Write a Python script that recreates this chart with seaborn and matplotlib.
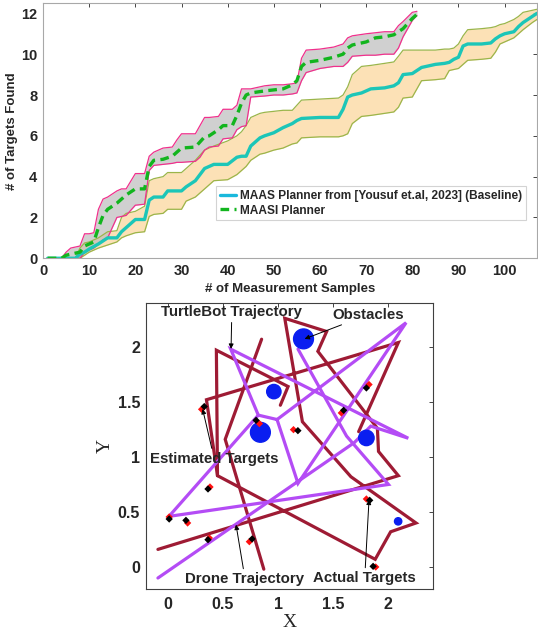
import numpy as np
import pandas as pd
import matplotlib
matplotlib.use('agg')
import matplotlib.pyplot as plt
from matplotlib.patches import Circle
from matplotlib.lines import Line2D
import seaborn as sns

# ---- top panel: targets found vs measurement samples ----
x_base = [1, 7, 8, 9, 10, 12, 14, 16, 17, 18, 20, 22, 23, 24, 26, 27, 30, 31, 33, 35, 37, 40, 42, 43, 44, 45,
          47, 48, 50, 52, 54, 55, 56, 60, 64, 65, 66, 67, 69, 71, 74, 76, 77, 78, 80, 82, 85, 87, 88, 89, 90,
          91, 92, 95, 97, 98, 99, 100, 102, 103, 104, 106, 107]
base_mean = [0, 0, 0.2, 0.3, 0.45, 0.7, 1.0, 1.0, 1.3, 1.5, 1.9, 1.9, 2.85, 3.0, 3.0, 3.3, 3.3, 3.5, 3.8, 4.4,
             4.6, 4.6, 4.95, 5.0, 5.0, 5.5, 5.9, 6.0, 6.15, 6.4, 6.6, 6.75, 6.85, 6.9, 6.9, 7.3, 7.9, 8.0, 8.1,
             8.3, 8.35, 8.45, 8.6, 9.0, 9.05, 9.35, 9.5, 9.55, 9.6, 9.75, 9.85, 10.4, 10.5, 10.5, 10.55, 10.75,
             10.9, 11.0, 11.1, 11.35, 11.55, 11.85, 12.0]
base_upper = [0, 0, 0.5, 0.75, 0.8, 1.0, 1.3, 1.35, 2.0, 2.2, 2.3, 2.55, 3.8, 3.9, 4.0, 4.2, 4.2, 4.4, 4.8, 5.3,
              5.5, 5.75, 6.0, 6.2, 6.5, 6.9, 7.1, 7.15, 7.2, 7.25, 7.25, 7.5, 7.75, 7.8, 7.85, 8.0, 8.4, 9.0, 9.4,
              9.45, 9.55, 9.62, 9.9, 10.2, 10.2, 10.2, 10.2, 10.25, 10.25, 10.3, 10.5, 10.9, 11.2, 11.25, 11.3,
              11.35, 11.45, 11.5, 11.7, 11.85, 12.05, 12.15, 12.2]
base_lower = [0, 0, 0, 0.15, 0.3, 0.5, 0.65, 0.8, 1.0, 1.1, 1.25, 1.3, 2.05, 2.15, 2.2, 2.4, 2.4, 2.8, 3.0, 3.4,
              3.8, 3.85, 4.1, 4.3, 4.5, 4.8, 5.1, 5.15, 5.3, 5.4, 5.6, 5.65, 5.9, 5.95, 5.95, 6.0, 6.1, 6.6, 6.95,
              7.0, 7.1, 7.17, 7.4, 7.85, 7.9, 8.7, 8.75, 8.8, 9.2, 9.25, 9.3, 9.5, 9.7, 9.75, 9.8, 10.1, 10.5,
              10.6, 10.8, 11.0, 11.2, 11.55, 11.7]

x_maasi = [1, 4, 5, 6, 8, 9, 10, 11, 12, 13, 14, 16, 17, 18, 20, 22, 23, 24, 26, 28, 29, 30, 33, 34, 35, 36,
           38, 39, 41, 42, 43, 44, 45, 48, 50, 52, 54, 55, 56, 57, 60, 63, 65, 66, 67, 70, 72, 74, 76, 77, 78,
           80, 81]
maasi_mean = [0, 0, 0.15, 0.2, 0.3, 0.6, 0.7, 0.8, 1.5, 2.1, 2.4, 2.7, 2.9, 3.1, 3.4, 3.4, 4.5, 4.8, 4.85, 5.0,
              5.2, 5.4, 5.45, 5.7, 5.95, 6.0, 6.3, 6.5, 6.5, 7.0, 7.6, 8.0, 8.1, 8.2, 8.25, 8.3, 8.5, 8.7, 9.4,
              9.6, 9.7, 9.85, 10.0, 10.3, 10.45, 10.6, 10.8, 10.85, 10.95, 11.1, 11.25, 11.75, 11.95]
maasi_upper = [0, 0, 0.3, 0.5, 0.6, 1.2, 1.2, 1.25, 2.4, 2.9, 3.0, 3.3, 3.4, 3.4, 4.15, 4.15, 5.0, 5.2, 5.4,
               5.45, 5.8, 6.1, 6.1, 6.5, 6.9, 6.9, 6.95, 7.3, 7.3, 7.5, 8.3, 8.3, 8.3, 8.45, 8.5, 8.5, 8.55, 8.6,
               9.8, 10.2, 10.25, 10.35, 10.5, 10.8, 10.9, 11.0, 11.05, 11.1, 11.1, 11.4, 11.6, 12.05, 12.1]
maasi_lower = [0, 0, 0, 0, 0, 0.3, 0.4, 0.5, 0.7, 0.9, 1.0, 2.0, 2.05, 2.1, 2.6, 2.65, 4.3, 4.55, 4.6, 4.65,
               4.7, 4.7, 4.75, 4.95, 5.3, 5.45, 5.5, 5.85, 5.9, 6.3, 6.45, 6.5, 7.9, 7.95, 8.0, 8.0, 8.05, 8.1,
               8.7, 9.1, 9.3, 9.4, 9.4, 9.6, 9.9, 9.95, 9.95, 10.0, 10.0, 10.3, 10.85, 11.65, 11.9]

legend_labels = ['MAAS Planner from [Yousuf et.al, 2023] (Baseline)', 'MAASI Planner']

# ---- bottom panel: trajectories ----
drone_paths = [
    [(-0.09, 0.16), (2.09, 0.83), (1.91, 1.05), (1.90, 1.26), (1.36, 1.96), (1.44, 2.14), (1.06, 2.26),
     (1.22, 1.32), (1.66, 0.82), (2.25, 0.40), (2.02, 0.32), (1.88, 0.07), (0.45, 0.83), (0.35, 1.52),
     (2.09, 2.04), (1.73, 1.23)],
    [(0.87, -0.02), (0.52, 1.16), (0.85, 2.07)],
    [(1.02, 1.47), (1.09, 1.64), (0.44, 1.97), (0.45, 0.83)],
]
turtle_paths = [
    [(-0.09, -0.10), (1.69, 1.13), (1.84, 1.28), (2.18, 1.17), (0.57, 1.98), (0.82, 1.38), (0.99, 1.34),
     (1.18, 0.76), (2.16, 2.22), (0.99, 1.34)],
    [(0.01, 0.46), (0.82, 1.38)],
    [(0.01, 0.46), (2.00, 0.75), (1.62, 1.19), (1.18, 1.98)],
]
actual_x = [0.306, 0.830, 1.139, 1.573, 1.824, 0.382, 0.012, 0.179, 0.376, 0.739, 1.800, 1.885]
actual_y = [1.433, 1.303, 1.248, 1.400, 1.658, 0.727, 0.455, 0.400, 0.264, 0.230, 0.618, 0.000]
est_x = [0.330, 0.800, 1.179, 1.594, 1.800, 0.364, 0.012, 0.164, 0.364, 0.764, 1.830, 1.861]
est_y = [1.458, 1.333, 1.239, 1.424, 1.627, 0.709, 0.436, 0.424, 0.248, 0.255, 0.606, 0.006]
obst_x = [1.230, 0.961, 0.839, 1.800, 2.088]
obst_y = [2.073, 1.594, 1.224, 1.173, 0.415]
obst_r = [0.09, 0.065, 0.09, 0.07, 0.033]

sns.set_theme(style='white')
plt.rcParams['font.family'] = ['Liberation Sans', 'DejaVu Sans']

fig = plt.figure(figsize=(5.38, 6.33), dpi=100)
ax1 = fig.add_axes([0.080, 0.592, 0.918, 0.403])
ax2 = fig.add_axes([0.271, 0.0695, 0.533, 0.452])

c_base, c_maasi = '#1cc6b8', '#12b51e'
ax1.fill_between(x_base, base_lower, base_upper, color='#fbd89e', alpha=0.75, lw=0)
ax1.plot(x_base, base_upper, color='#9bb54a', lw=0.9)
ax1.plot(x_base, base_lower, color='#9bb54a', lw=0.9)
ax1.fill_between(x_maasi, maasi_lower, maasi_upper, color='#bdbdbd', alpha=0.7, lw=0)
ax1.plot(x_maasi, maasi_upper, color='#f0308c', lw=0.9)
ax1.plot(x_maasi, maasi_lower, color='#f0308c', lw=0.9)
sns.lineplot(x=x_base, y=base_mean, ax=ax1, color=c_base, lw=2.4, sort=False, estimator=None)
sns.lineplot(x=x_maasi, y=maasi_mean, ax=ax1, color=c_maasi, lw=2.4, sort=False, estimator=None)
ax1.lines[-1].set_dashes([2.6, 1.6])

ax1.set_xlim(0, 107)
ax1.set_ylim(0, 12.5)
ax1.set_xticks(range(0, 101, 10))
ax1.set_yticks(range(0, 13, 2))
ax1.set_xlabel('# of Measurement Samples', fontsize=9.5, fontweight='bold', labelpad=4)
ax1.set_ylabel('# of Targets Found', fontsize=9.5, fontweight='bold', labelpad=2)
handles = [Line2D([], [], color='#1ab8dc', lw=2.4),
           Line2D([], [], color=c_maasi, lw=2.4, dashes=[2.6, 1.6])]
leg = ax1.legend(handles, legend_labels, loc='lower right', bbox_to_anchor=(0.978, 0.149),
                 prop={'weight': 'bold', 'size': 8.6}, frameon=True, fancybox=False,
                 handlelength=1.3, borderpad=0.3, labelspacing=0.25, handletextpad=0.4,
                 borderaxespad=0)
leg.get_frame().set_edgecolor('#c8c8c8')
leg.get_frame().set_linewidth(0.8)

ax1.tick_params(direction='in', length=3, width=0.6, top=True, right=True, pad=4,
                labelsize=10.5, colors='#262626')
ax2.tick_params(direction='in', length=3, width=0.6, top=True, right=True,
                labelsize=11.5, colors='#262626')
ax2.tick_params(axis='x', pad=6)
ax2.tick_params(axis='y', pad=4)
for lab in ax1.get_xticklabels() + ax1.get_yticklabels():
    lab.set_fontweight('bold')
for sp in ax1.spines.values():
    sp.set_color('#a8a8a8')
    sp.set_linewidth(0.8)
for sp in ax2.spines.values():
    sp.set_color('#404040')
    sp.set_linewidth(0.8)

# bottom panel
for path in drone_paths:
    d = pd.DataFrame(path, columns=['x', 'y'])
    sns.lineplot(data=d, x='x', y='y', ax=ax2, color='#9e1b34', lw=2.3, sort=False, estimator=None)
for path in turtle_paths:
    d = pd.DataFrame(path, columns=['x', 'y'])
    sns.lineplot(data=d, x='x', y='y', ax=ax2, color='#b44cf5', lw=2.3, sort=False, estimator=None)
for line in ax2.lines:
    line.set_solid_joinstyle('miter')
for cx, cy, r in zip(obst_x, obst_y, obst_r):
    ax2.add_patch(Circle((cx, cy), r, color='#0a1ef0', zorder=4))
sns.scatterplot(x=actual_x, y=actual_y, ax=ax2, marker='D', s=14, color='#ff1010', edgecolor='none', zorder=5)
sns.scatterplot(x=est_x, y=est_y, ax=ax2, marker='D', s=14, color='black', edgecolor='none', zorder=6)

akw = dict(fontsize=10.8, fontweight='bold', ha='center', va='center', zorder=8,
           arrowprops=dict(arrowstyle='-|>', color='black', lw=0.7, mutation_scale=7, shrinkA=0, shrinkB=0))
ax2.annotate('TurtleBot Trajectory', xy=(0.573, 1.982), xytext=(0.58, 2.315), **akw)
ax2.annotate('Obstacles', xy=(1.24, 2.073), xytext=(1.82, 2.294), **akw)
ax2.annotate('Estimated Targets', xy=(0.315, 1.436), xytext=(0.42, 0.985), **akw)
ax2.annotate('Drone Trajectory', xy=(0.618, 0.385), xytext=(0.70, -0.109), **akw)
ax2.annotate('Actual Targets', xy=(1.824, 0.612), xytext=(1.785, -0.10), **akw)

ax2.set_xlim(-0.2, 2.4)
ax2.set_ylim(-0.2, 2.4)
ax2.set_xticks([0, 0.5, 1, 1.5, 2])
ax2.set_xticklabels(['0', '0.5', '1', '1.5', '2'])
ax2.set_yticks([0, 0.5, 1, 1.5, 2])
ax2.set_yticklabels(['0', '0.5', '1', '1.5', '2'])
for lab in ax2.get_xticklabels() + ax2.get_yticklabels():
    lab.set_fontweight('bold')
ax2.set_xlabel('X', fontsize=14, family=['Liberation Serif', 'DejaVu Serif'], labelpad=1)
ax2.set_ylabel('Y', fontsize=14, family=['Liberation Serif', 'DejaVu Serif'], labelpad=3)

fig.savefig('out.png', dpi=100)
